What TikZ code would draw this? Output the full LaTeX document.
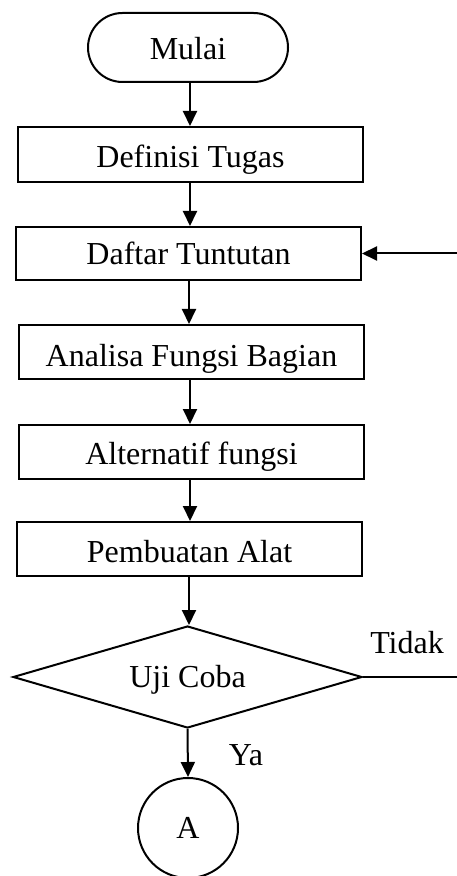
\documentclass[tikz,border=0pt]{standalone}
\usepackage{fontspec}
\setmainfont{Liberation Serif}
\usetikzlibrary{shapes.geometric,shapes.misc,arrows.meta}
\begin{document}
\begin{tikzpicture}[x=0.5pt,y=-0.5pt,
  font=\fontsize{16}{19}\selectfont,
  every node/.style={inner sep=0pt},
  base/.style={draw,line width=1pt},
  drop/.style={text height=#1,text depth=0pt},
  terminal/.style={base,rounded rectangle,minimum width=100pt,minimum height=34.5pt},
  process/.style={base,rectangle,minimum width=172.5pt,minimum height=27pt},
  decision/.style={base,diamond,aspect=3.42,minimum width=174.5pt,minimum height=51pt},
  connector/.style={base,circle,minimum size=50pt},
  flow/.style={line width=1pt,-{Triangle[length=7.5pt,width=7pt]}}]
\useasboundingbox (0,0) rectangle (456,876);
\node[terminal,drop=12.5pt] (mulai) at (188,47.5) {Mulai};
\node[process,drop=13pt,minimum height=27.5pt] (def) at (190.5,154.5) {Definisi Tugas};
\node[process,drop=11.5pt,minimum height=26.5pt] (daftar) at (188.5,253.5) {Daftar Tuntutan};
\node[process,drop=14pt] (analisa) at (191.5,352) {Analisa Fungsi Bagian};
\node[process,drop=12pt] (alt) at (191.5,452) {Alternatif fungsi};
\node[process,drop=13pt] (buat) at (189.5,549) {Pembuatan Alat};
\node[decision,drop=10pt] (uji) at (187.5,677) {Uji Coba};
\node[connector] (a) at (188,828) {A};
\node (tidak) at (407,643) {Tidak};
\node (ya) at (246,755) {Ya};
\coordinate (loop) at (475,677);
\draw[flow] (mulai.south -| 190,0) -- (190,0 |- def.north);
\draw[flow] (def.south -| 190,0) -- (190,0 |- daftar.north);
\draw[flow] (daftar.south -| 189,0) -- (189,0 |- analisa.north);
\draw[flow] (analisa.south -| 190,0) -- (190,0 |- alt.north);
\draw[flow] (alt.south -| 190,0) -- (190,0 |- buat.north);
\draw[flow] (buat.south -| 189,0) -- (189,0 |- uji.north);
\draw[flow] (uji.south) -- (a.north);
\draw[flow] (uji.east) -- (loop) |- (daftar.east);
\end{tikzpicture}
\end{document}
